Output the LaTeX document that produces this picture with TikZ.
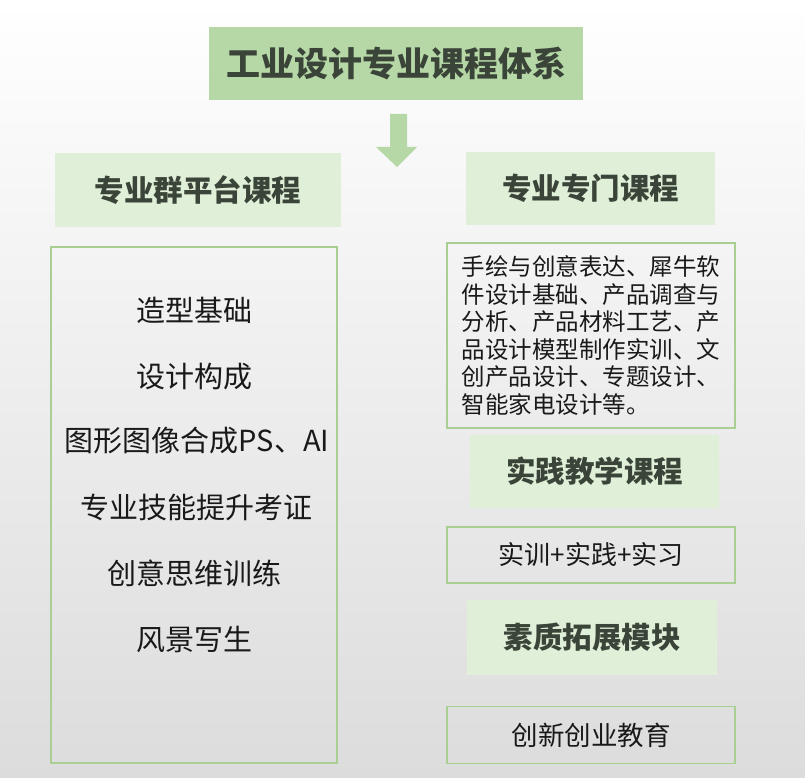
\documentclass[tikz,border=0pt]{standalone}
\usepackage{fontspec}
\setmainfont{Noto Sans CJK SC}
\usepackage{xcolor}
\usepackage{tikz}
\usetikzlibrary{positioning}

\definecolor{titlegreen}{HTML}{B6D8A6}
\definecolor{headgreen}{HTML}{E0F0D8}
\definecolor{linegreen}{HTML}{A9CF93}
\definecolor{headtext}{HTML}{3A4438}

\begin{document}
\begin{tikzpicture}[x=1pt,y=-1pt,
    title/.style={fill=titlegreen, minimum width=374pt, minimum height=73pt, text=headtext, font=\fontsize{34}{40}\selectfont\bfseries},
    head/.style={fill=headgreen, minimum width=249pt, minimum height=73pt, text=headtext, font=\fontsize{29.5}{34}\selectfont\bfseries},
    frame/.style={draw=linegreen, line width=1.5pt, minimum width=288pt},
    item/.style={text=black!90, font=\fontsize{29}{34}\selectfont}]
    % Background
    \shade[top color=white, bottom color={rgb,255:red,220;green,220;blue,220}] (0,0) rectangle (805,778);
    \useasboundingbox (0,0) rectangle (805,778);

    % Title
    \node[title] (sys) at (396,63.5) {工业设计专业课程体系};
    \fill[titlegreen] (390,114) -- (407,114) -- (407,147) -- (417,147) -- (397,167) -- (376,147) -- (390,147) -- cycle;

    % Left column
    \node[head, minimum width=286pt, minimum height=74pt] (plat) at (198,190) {专业群平台课程};
    \node[frame, minimum width=286pt, minimum height=516pt] (platbox) at (194,505) {};
    \node[item] (p1) at (194,310) {造型基础};
    \node[item] (p2) at (194,377) {设计构成};
    \node[item] (p3) at (197,441) {图形图像合成PS、AI};
    \node[item] (p4) at (196,507) {专业技能提升考证};
    \node[item] (p5) at (194,573) {创意思维训练};
    \node[item] (p6) at (194,639) {风景写生};

    % Right column
    \node[head] (spec) at (590.5,188.5) {专业专门课程};
    \node[frame, minimum height=185pt, align=left, text=black!90, font=\fontsize{23.5}{27.5}\selectfont] (specbox) at (591,335.5)
        {手绘与创意表达、犀牛软\\件设计基础、产品调查与\\分析、产品材料工艺、产\\品设计模型制作实训、文\\创产品设计、专题设计、\\智能家电设计等。};

    \node[head] (prac) at (594.5,471) {实践教学课程};
    \node[frame, minimum height=56pt, text=black!90, font=\fontsize{26}{30}\selectfont] (pracbox) at (591,555) {实训+实践+实习};

    \node[head, minimum width=250pt, minimum height=75pt] (qual) at (592,637.5) {素质拓展模块};
    \node[frame, minimum height=57pt, text=black!90, font=\fontsize{26.5}{30}\selectfont] (qualbox) at (591,735) {创新创业教育};
\end{tikzpicture}
\end{document}
